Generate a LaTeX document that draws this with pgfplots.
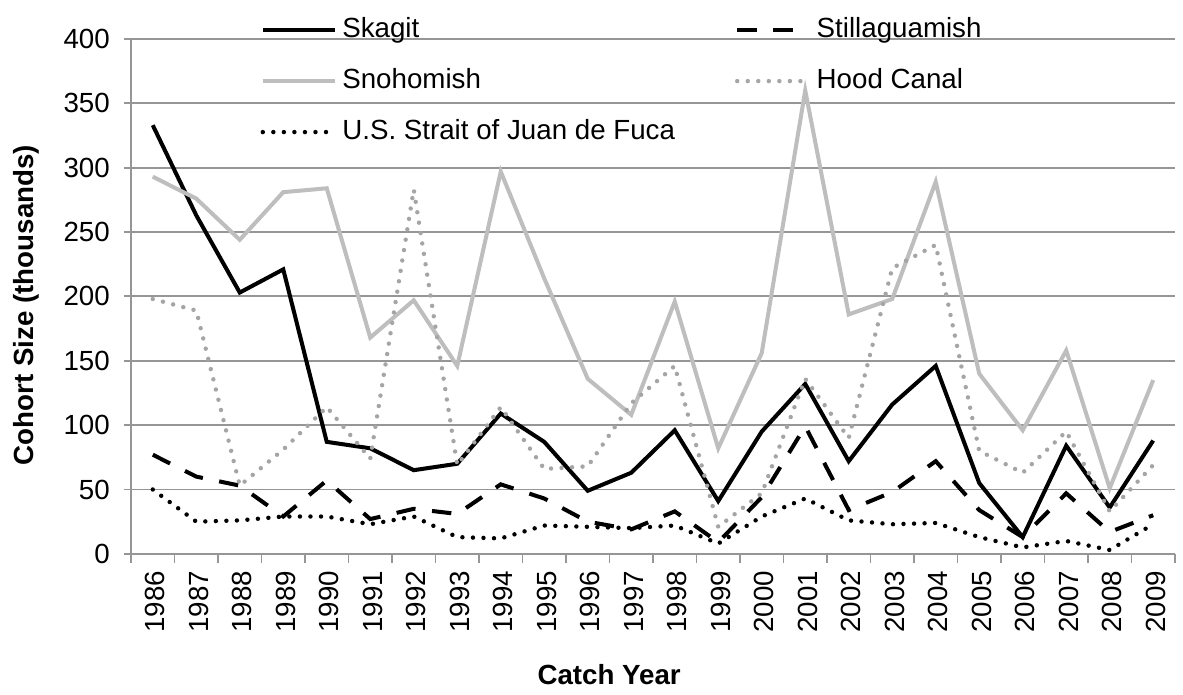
\documentclass[border=0pt]{standalone}
\usepackage{pgfplots}
\pgfplotsset{compat=1.18}
\usepackage{fontspec}
\setmainfont{Liberation Sans}
\definecolor{lgray}{RGB}{190,190,190}
\definecolor{dgray}{RGB}{165,165,165}
\definecolor{gridgray}{RGB}{150,150,150}
\begin{document}
\begin{tikzpicture}
\begin{axis}[
  scale only axis,
  width=13.24cm, height=6.53cm,
  xmin=-0.5, xmax=23.5, ymin=0, ymax=400,
  ytick={0,50,...,400},
  xtick={0,...,23},
  xticklabels={1986,1987,1988,1989,1990,1991,1992,1993,1994,1995,1996,1997,1998,1999,2000,2001,2002,2003,2004,2005,2006,2007,2008,2009},
  minor xtick={-0.5,0.5,...,23.5},
  major x tick style={draw=none},
  minor x tick style={draw=gridgray, line width=0.7pt},
  major y tick style={draw=gridgray, line width=0.7pt},
  tick align=outside,
  major tick length=0.095cm,
  minor tick length=0.11cm,
  axis x line*=bottom, axis y line*=left,
  axis line style={draw=gridgray, line width=0.7pt, -},
  ymajorgrids,
  grid style={draw=gridgray, line width=0.7pt},
  /pgf/number format/assume math mode=true,
  tick label style={font=\normalsize},
  xticklabel style={rotate=90, anchor=east, yshift=-0.03cm},
  yticklabel style={xshift=-0.05cm},
  every axis x label/.style={at={(axis description cs:0.458,-0.235)}, anchor=center},
  every axis y label/.style={at={(axis description cs:-0.1005,0.483)}, rotate=90, anchor=center},
  xlabel={\bfseries Catch Year},
  ylabel={\bfseries Cohort Size (thousands)},
  clip=false,
  legend columns=2,
  legend image code/.code={\draw[#1] (0cm,0cm) -- (0.91cm,0cm);},
  legend style={at={(axis description cs:0.1236,1.056)}, anchor=north west,
    draw=none, fill=none, inner sep=0pt, column sep=0pt, row sep=4.4pt,
    nodes={text height=0.75em, text depth=0.25em}},
  legend cell align=left,
]
\addplot[black, line width=1.45pt] coordinates {
(0,333) (1,263) (2,203) (3,221) (4,87) (5,82) (6,65) (7,70) (8,109) (9,87) (10,49) (11,63)
(12,96) (13,41) (14,95) (15,132) (16,72) (17,116) (18,146) (19,55) (20,13) (21,84) (22,36) (23,88)};
\addlegendentry{\makebox[4.91cm][l]{Skagit}}
\addplot[black, line width=1.45pt, dash pattern=on 7pt off 6pt] coordinates {
(0,77) (1,60) (2,53) (3,29) (4,57) (5,27) (6,35) (7,31) (8,54) (9,43) (10,25) (11,19)
(12,33) (13,9) (14,44) (15,99) (16,34) (17,48) (18,72) (19,34) (20,13) (21,47) (22,17) (23,30)};
\addlegendentry{Stillaguamish}
\addplot[lgray, line width=1.45pt] coordinates {
(0,293) (1,276) (2,244) (3,281) (4,284) (5,168) (6,197) (7,146) (8,297) (9,214) (10,136) (11,108)
(12,196) (13,82) (14,156) (15,360) (16,186) (17,198) (18,289) (19,140) (20,96) (21,158) (22,51) (23,135)};
\addlegendentry{\makebox[4.91cm][l]{Snohomish}}
\addplot[dgray, line width=1.6pt, line cap=round, dash pattern=on 0pt off 3.8pt] coordinates {
(0,198) (1,189) (2,53) (3,81) (4,114) (5,74) (6,283) (7,69) (8,114) (9,66) (10,68) (11,117)
(12,146) (13,21) (14,47) (15,136) (16,90) (17,222) (18,240) (19,80) (20,63) (21,95) (22,33) (23,69)};
\addlegendentry{Hood Canal}
\addplot[black, line width=1.6pt, line cap=round, dash pattern=on 0pt off 3.8pt] coordinates {
(0,50) (1,25) (2,26) (3,29) (4,29) (5,23) (6,29) (7,13) (8,12) (9,22) (10,21) (11,20)
(12,22) (13,8) (14,29) (15,43) (16,26) (17,23) (18,24) (19,13) (20,5) (21,10) (22,3) (23,23)};
\addlegendentry{\makebox[4.91cm][l]{U.S. Strait of Juan de Fuca}}
\path (axis description cs:-0.1255,1.0757) (axis description cs:1.0077,-0.266);
\end{axis}
\end{tikzpicture}
\end{document}
